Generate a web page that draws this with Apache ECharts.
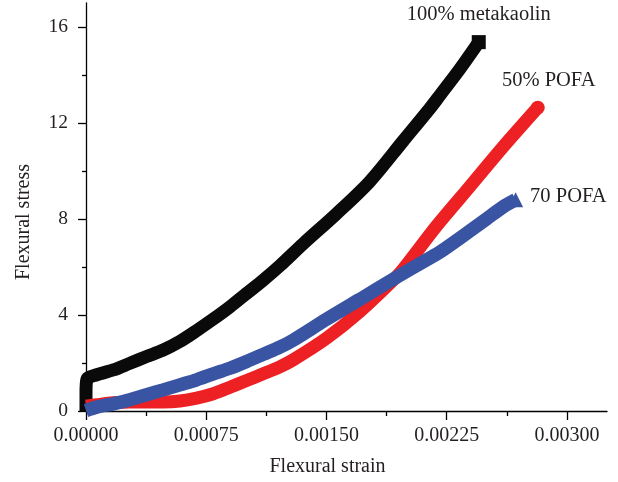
<!DOCTYPE html>
<html>
<head>
<meta charset="utf-8">
<script src="https://cdn.jsdelivr.net/npm/echarts@6/dist/echarts.min.js"></script>
<style>
  html, body { margin: 0; padding: 0; background: #fff; }
  #chart { width: 618px; height: 482px; }
</style>
</head>
<body>
<div id="chart"></div>
<script>
// 曲线数据：[应变, 应力]
var metakaolin = [
  [0, 0], [0, 0.75], [0.000006, 1.33], [0.000067, 1.51], [0.00017, 1.71],
  [0.000274, 1.99], [0.000378, 2.27], [0.000482, 2.54], [0.000586, 2.9],
  [0.00069, 3.35], [0.000794, 3.83], [0.000898, 4.34], [0.001002, 4.9],
  [0.001105, 5.45], [0.001209, 6.05], [0.001355, 6.97], [0.001563, 8.22],
  [0.00177, 9.56], [0.001978, 11.25], [0.002144, 12.6], [0.002207, 13.15],
  [0.002332, 14.25], [0.00245, 15.37]
];
var pofa50 = [
  [0, 0.2], [0.000067, 0.26], [0.00017, 0.34], [0.000274, 0.38],
  [0.000378, 0.38], [0.000482, 0.38], [0.000586, 0.42], [0.00069, 0.54],
  [0.000794, 0.72], [0.000898, 0.99], [0.001002, 1.27], [0.001105, 1.55],
  [0.001209, 1.84], [0.001292, 2.13], [0.0015, 3.03], [0.001708, 4.14],
  [0.001916, 5.45], [0.001978, 5.9], [0.002186, 7.7], [0.002394, 9.35],
  [0.002601, 11.0], [0.002818, 12.64]
];
var pofa70 = [
  [0, 0.02], [0.000067, 0.16], [0.00017, 0.3], [0.000274, 0.47],
  [0.000378, 0.68], [0.000482, 0.88], [0.000586, 1.09], [0.00069, 1.3],
  [0.000794, 1.55], [0.000898, 1.78], [0.001002, 2.06], [0.001105, 2.36],
  [0.001209, 2.66], [0.001292, 2.95], [0.0015, 3.82], [0.001708, 4.65],
  [0.001916, 5.49], [0.002124, 6.3], [0.002207, 6.62], [0.002394, 7.5],
  [0.002498, 8.0], [0.002601, 8.5], [0.00268, 8.8]
];
var seriesNames = ["100% metakaolin", "50% POFA", "70 POFA"];

// 刻度
var xTicks = [0, 0.00075, 0.0015, 0.00225, 0.003];
var xMinorTicks = [0.000375, 0.001125, 0.001875, 0.002625];
var yTicks = [0, 4, 8, 12, 16];
var yMinorTicks = [2, 6, 10, 14];

var font = "Liberation Serif";
var textColor = "#231f20";

// 末端点：标记 + 名称
function endMark(points, text, symbol, size, labelOpt) {
  return {
    silent: true,
    animation: false,
    symbol: symbol,
    symbolSize: size,
    data: [{ coord: points[points.length - 1] }],
    label: Object.assign({
      show: true,
      formatter: text,
      fontFamily: font,
      fontSize: 20.5,
      color: textColor
    }, labelOpt)
  };
}

function makeSeries(name, points, color, symbol, size, width, labelOpt) {
  return {
    name: name,
    type: "line",
    clip: false,
    smooth: 0.3,
    showSymbol: false,
    data: points,
    color: color,
    lineStyle: { width: width, color: color },
    markPoint: endMark(points, name, symbol, size, labelOpt)
  };
}

var chart = echarts.init(document.getElementById("chart"));
var axisLineStyle = { color: "#000", width: 1.3 };

var optionData = {
  animation: false,
  grid: { left: 86, right: 11, top: 3, bottom: 69 },
  xAxis: [
    {
      type: "value",
      min: 0,
      max: 0.00325,
      name: "Flexural strain",
      nameLocation: "middle",
      nameGap: 46,
      nameTextStyle: { fontFamily: font, fontSize: 20, color: textColor, padding: [0, 38, 0, 0] },
      splitLine: { show: false },
      axisLine: { lineStyle: axisLineStyle },
      axisTick: { customValues: xTicks, length: 9, lineStyle: axisLineStyle },
      axisLabel: {
        customValues: xTicks,
        margin: 15,
        fontFamily: font,
        fontSize: 20,
        color: textColor,
        formatter: function(v) { return v.toFixed(5); }
      }
    },
    {
      type: "value",
      position: "bottom",
      min: 0,
      max: 0.00325,
      splitLine: { show: false },
      axisLine: { show: false },
      axisTick: { customValues: xMinorTicks, length: 5, lineStyle: axisLineStyle },
      axisLabel: { show: false }
    }
  ],
  yAxis: [
    {
      type: "value",
      min: 0,
      max: 17,
      name: "Flexural stress",
      nameLocation: "middle",
      nameGap: 52,
      nameTextStyle: { fontFamily: font, fontSize: 20, color: textColor, padding: [0, 30, 0, 0] },
      splitLine: { show: false },
      axisLine: { show: true, lineStyle: axisLineStyle },
      axisTick: { show: true, customValues: yTicks, length: 8, lineStyle: axisLineStyle },
      axisLabel: {
        customValues: yTicks,
        margin: 18,
        fontFamily: font,
        fontSize: 19.5,
        color: textColor
      }
    },
    {
      type: "value",
      position: "left",
      min: 0,
      max: 17,
      splitLine: { show: false },
      axisLine: { show: false },
      axisTick: { show: true, customValues: yMinorTicks, length: 4, lineStyle: axisLineStyle },
      axisLabel: { show: false }
    }
  ],
  series: [
    makeSeries(seriesNames[0], metakaolin, "#0a0a0a", "rect", 14, 13,
      { position: "top", distance: 10 }),
    makeSeries(seriesNames[1], pofa50, "#ed2024", "circle", 14, 13,
      { position: "top", distance: 10, offset: [11, 0] }),
    makeSeries(seriesNames[2], pofa70, "#3a54a4", "triangle", 15, 13.5,
      { position: "right", distance: 7, offset: [0, -3] })
  ]
};
chart.setOption(optionData);
</script>
</body>
</html>
